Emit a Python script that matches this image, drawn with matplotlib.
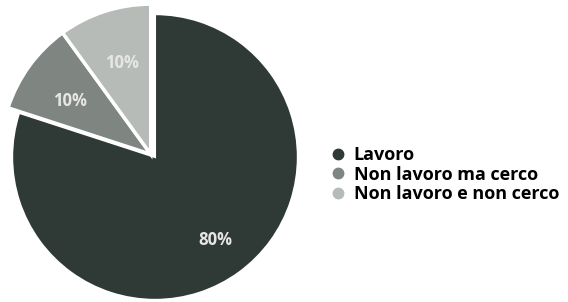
import matplotlib
matplotlib.use("Agg")
import matplotlib.pyplot as plt
from matplotlib.lines import Line2D

labels = ["Lavoro", "Non lavoro ma cerco", "Non lavoro e non cerco"]
values = [80, 10, 10]
colors = ["#2f3a36", "#7f8682", "#b7bbb8"]

plt.rcParams["font.family"] = ["Open Sans", "DejaVu Sans"]

fig = plt.figure(figsize=(5.68, 3.02), dpi=100)
ax = fig.add_axes([0.0088, -0.0166, 300 / 568, 300 / 302])

wedges, texts, autotexts = ax.pie(
    values,
    colors=colors,
    startangle=90,
    counterclock=False,
    autopct="%d%%",
    pctdistance=0.72,
    wedgeprops=dict(edgecolor="white", linewidth=1.5),
    textprops=dict(color="#e6e6e6", fontsize=12, fontweight="bold"),
)
# the two grey slices are pulled out together, a bit larger than the dark one
for w in wedges[1:]:
    w.set_radius(1.05)
    w.set_center((-0.03, 0.02))
    w.set_linewidth(2.5)
for t in autotexts[1:]:
    x, y = t.get_position()
    t.set_position((x - 0.01, y - 0.03))
ax.set_xlim(-1.05, 1.05)
ax.set_ylim(-1.05, 1.05)
ax.set_aspect("equal")
for w in wedges:
    w.set_clip_on(False)

handles = [
    Line2D([], [], marker="o", linestyle="none", markersize=7.5,
           markerfacecolor=c, markeredgecolor=c)
    for c in colors
]
fig.legend(
    handles, labels,
    loc="upper left",
    bbox_to_anchor=(315 / 568, 1 - 130 / 302),
    frameon=False,
    handlelength=0.7,
    handletextpad=0.55,
    labelspacing=0.08,
    prop=dict(family="Open Sans", weight="bold", size=13),
)

fig.savefig("out.png", dpi=100)
